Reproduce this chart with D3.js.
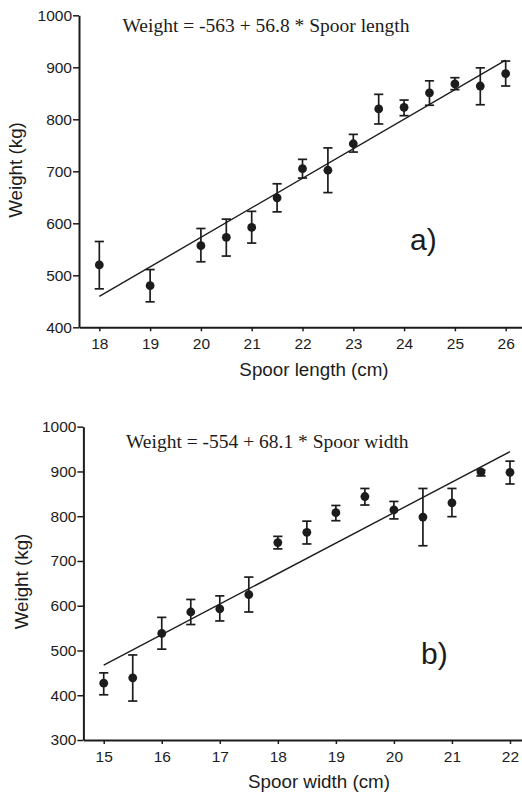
<!DOCTYPE html>
<html>
<head>
<meta charset="utf-8">
<script src="https://cdn.jsdelivr.net/npm/d3@7"></script>
<style>
  body { margin: 0; background: #fff; }
  svg { display: block; }
</style>
</head>
<body>
<div id="chart"></div>
<script>
/* Panel a: spoor length */
const lengthCm = [18, 19, 20, 20.5, 21, 21.5, 22, 22.5, 23, 23.5, 24, 24.5, 25, 25.5, 26];
const lengthWeight = [520, 480, 557, 573, 592, 649, 705, 702, 753, 820, 823, 851, 868, 864, 888];
const lengthLow = [474, 449, 526, 537, 562, 622, 687, 659, 737, 791, 807, 827, 857, 828, 864];
const lengthHigh = [565, 511, 590, 608, 623, 676, 723, 745, 771, 848, 837, 874, 880, 899, 912];
const lengthFit = [-563, 56.8];
const lengthTicks = [18, 19, 20, 21, 22, 23, 24, 25, 26];
const weightTicksA = [400, 500, 600, 700, 800, 900, 1000];

/* Panel b: spoor width */
const widthCm = [15, 15.5, 16, 16.5, 17, 17.5, 18, 18.5, 19, 19.5, 20, 20.5, 21, 21.5, 22];
const widthWeight = [427, 439, 538, 586, 593, 625, 741, 764, 808, 844, 814, 798, 830, 899, 898];
const widthLow = [401, 387, 503, 558, 566, 586, 727, 738, 790, 825, 794, 734, 799, 890, 872];
const widthHigh = [450, 490, 574, 614, 622, 664, 755, 789, 824, 862, 833, 862, 862, 903, 923];
const widthFit = [-554, 68.1];
const widthTicks = [15, 16, 17, 18, 19, 20, 21, 22];
const weightTicksB = [300, 400, 500, 600, 700, 800, 900, 1000];

const width = 522, height = 794;
const ink = '#1c1c1c';
const sans = '"Liberation Sans", Arial, sans-serif';
const serif = '"Liberation Serif", "Times New Roman", serif';

let svg = d3.select('#chart')
  .append('svg')
  .attr('width', width)
  .attr('height', height);

function drawPanel(p) {
  let g = svg.append('g');

  let x = d3.scaleLinear().domain(p.xDomain).range(p.xRange);
  let y = d3.scaleLinear().domain(p.yDomain).range(p.yRange);

  // Axes
  let xAxis = g.append('g')
    .attr('transform', 'translate(0,' + p.yRange[0] + ')')
    .call(d3.axisBottom(x).tickValues(p.xTicks).tickSize(4).tickSizeOuter(0).tickPadding(6.5)
      .tickFormat(d3.format('d')));
  let yAxis = g.append('g')
    .attr('transform', 'translate(' + p.xRange[0] + ',0)')
    .call(d3.axisLeft(y).tickValues(p.yTicks).tickSize(6).tickSizeOuter(0).tickPadding(1)
      .tickFormat(d3.format('d')));

  [xAxis, yAxis].forEach(a => {
    a.select('.domain').attr('stroke', ink).attr('stroke-width', 2);
    a.selectAll('.tick line').attr('stroke', ink).attr('stroke-width', 1.5);
    a.selectAll('.tick text')
      .attr('fill', ink)
      .style('font-family', sans)
      .style('font-size', '15.5px');
  });

  // Regression line
  let x0 = p.xs[0], x1 = p.xs[p.xs.length - 1];
  let fit = v => p.fit[0] + p.fit[1] * v;
  g.append('line')
    .attr('x1', x(x0)).attr('y1', y(fit(x0)))
    .attr('x2', x(x1)).attr('y2', y(fit(x1)))
    .attr('stroke', ink)
    .attr('stroke-width', 1.4);

  // Error bars
  let pts = p.xs.map((v, i) => ({ x: v, w: p.ws[i], lo: p.lo[i], hi: p.hi[i] }));
  let bars = g.selectAll('.bar').data(pts).enter().append('g');
  bars.append('line')
    .attr('x1', d => x(d.x)).attr('x2', d => x(d.x))
    .attr('y1', d => y(d.lo)).attr('y2', d => y(d.hi));
  bars.append('line')
    .attr('x1', d => x(d.x) - 4.6).attr('x2', d => x(d.x) + 4.6)
    .attr('y1', d => y(d.lo)).attr('y2', d => y(d.lo));
  bars.append('line')
    .attr('x1', d => x(d.x) - 4.6).attr('x2', d => x(d.x) + 4.6)
    .attr('y1', d => y(d.hi)).attr('y2', d => y(d.hi));
  bars.selectAll('line')
    .attr('stroke', ink)
    .attr('stroke-width', 1.7);

  // Means
  g.selectAll('.dot').data(pts).enter().append('circle')
    .attr('cx', d => x(d.x))
    .attr('cy', d => y(d.w))
    .attr('r', 4.4)
    .attr('fill', ink);

  // Texts
  g.append('text')
    .attr('x', p.eqPos[0]).attr('y', p.eqPos[1])
    .style('font-family', serif)
    .style('font-size', '19.5px')
    .attr('fill', ink)
    .text(p.equation);

  g.append('text')
    .attr('x', p.panelPos[0]).attr('y', p.panelPos[1])
    .style('font-family', sans)
    .style('font-size', '30px')
    .attr('fill', ink)
    .text(p.panel);

  g.append('text')
    .attr('x', p.xTitlePos[0]).attr('y', p.xTitlePos[1])
    .attr('text-anchor', 'middle')
    .style('font-family', sans)
    .style('font-size', '18.8px')
    .attr('fill', ink)
    .text(p.xTitle);

  g.append('text')
    .attr('transform', 'translate(' + p.yTitlePos[0] + ',' + p.yTitlePos[1] + ') rotate(-90)')
    .attr('text-anchor', 'middle')
    .style('font-family', sans)
    .style('font-size', '18.8px')
    .attr('fill', ink)
    .text('Weight (kg)');
}

drawPanel({
  xs: lengthCm, ws: lengthWeight, lo: lengthLow, hi: lengthHigh, fit: lengthFit,
  xDomain: [17.6, 26.4], xRange: [79, 526],
  yDomain: [400, 1000], yRange: [327.3, 15.3],
  xTicks: lengthTicks, yTicks: weightTicksA,
  equation: 'Weight = -563 + 56.8 * Spoor length', eqPos: [122.5, 32.3],
  panel: 'a)', panelPos: [410, 249.5],
  xTitle: 'Spoor length (cm)', xTitlePos: [314, 376],
  yTitlePos: [22, 170]
});

drawPanel({
  xs: widthCm, ws: widthWeight, lo: widthLow, hi: widthHigh, fit: widthFit,
  xDomain: [14.65, 22.35], xRange: [83.4, 530.3],
  yDomain: [300, 1000], yRange: [740, 426.7],
  xTicks: widthTicks, yTicks: weightTicksB,
  equation: 'Weight = -554 + 68.1 * Spoor width', eqPos: [126, 447.7],
  panel: 'b)', panelPos: [421, 664.3],
  xTitle: 'Spoor width (cm)', xTitlePos: [319, 788],
  yTitlePos: [28, 581.5]
});
</script>
</body>
</html>
